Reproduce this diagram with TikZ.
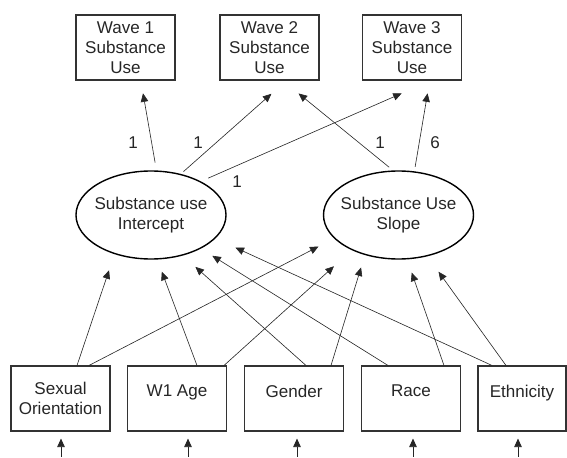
\documentclass[tikz,border=0pt]{standalone}
\usepackage{fontspec}
\setmainfont{Liberation Sans}
\usetikzlibrary{arrows.meta,shapes.geometric}

\begin{document}
\begin{tikzpicture}[scale=0.2]
			\tikzstyle{every node}+=[inner sep=0pt, font=\fontsize{9.7}{11.3}\selectfont, text=black!85]
			\tikzstyle{obs}=[draw=black!80, line width=0.6pt, rectangle, minimum width=1.98cm, minimum height=1.3cm, align=center]
			\tikzstyle{oneline}=[text depth=8.5pt]
			\tikzstyle{latent}=[draw=black, line width=0.8pt, ellipse, minimum width=3cm, minimum height=1.76cm, inner xsep=-3pt, align=center]
			\tikzstyle{arr}=[draw=black!85, line width=0.35pt, -{Triangle[length=1.7mm,width=1.5mm]}]
			\useasboundingbox (0,0) rectangle (56.7,-45.7);
			% waves
			\node [obs] (w1) at (12.55,-4.75) {Wave 1\\Substance\\Use};
			\node [obs] (w2) at (26.95,-4.75) {Wave 2\\Substance\\Use};
			\node [obs] (w3) at (41.2,-4.75) {Wave 3\\Substance\\Use};
			% growth factors
			\node [latent] (icpt) at (15.1,-21.5) {Substance use\\Intercept};
			\node [latent] (slope) at (39.85,-21.5) {Substance Use\\Slope};
			% covariates
			\node [obs] (so) at (6.05,-39.85) {Sexual\\Orientation};
			\node [obs, oneline] (age) at (17.7,-39.85) {W1 Age};
			\node [obs, oneline] (gen) at (29.4,-39.85) {Gender};
			\node [obs, oneline] (race) at (41.1,-39.85) {Race};
			\node [obs, oneline, minimum width=1.76cm] (eth) at (52.2,-39.85) {Ethnicity};
			% loadings
			\draw [arr, shorten <=0.16cm, shorten >=0.26cm] (icpt.83) -- ([shift={(1.53,0)}]w1.south);
			\draw [arr, shorten <=0.07cm, shorten >=0.4cm] (icpt.54.5) -- ([shift={(1.69,0)}]w2.south);
			\draw [arr, shorten <=0.16cm, shorten >=0.64cm] (icpt.34.6) -- ([shift={(1.9,0)}]w3.south);
			\draw [arr, shorten <=0.1cm, shorten >=0.41cm] (slope.97.3) -- ([shift={(1.32,0)}]w2.south);
			\draw [arr, shorten <=0.09cm, shorten >=0.26cm] (slope.70.2) -- ([shift={(1.77,0)}]w3.south);
			\node (l1) at (13.3,-14.3) {1};
			\node (l2) at (19.8,-14.3) {1};
			\node (l3) at (38.0,-14.3) {1};
			\node (l4) at (43.5,-14.3) {6};
			\node (l5) at (23.7,-18.2) {1};
			% covariates to intercept
			\draw [arr, shorten >=0.34cm] ([shift={(1.65,0)}]so.north) -- (icpt.227.7);
			\draw [arr, shorten >=0.26cm] ([shift={(2.0,0)}]age.north) -- (icpt.278.5);
			\draw [arr, shorten >=0.34cm] ([shift={(1.2,0)}]gen.north) -- (icpt.308.3);
			\draw [arr, shorten >=0.27cm] ([shift={(-2.3,0)}]race.north) -- (icpt.326.4);
			\draw [arr, shorten >=0.44cm] ([shift={(-3.0,0)}]eth.north) -- (icpt.340.3);
			% covariates to slope
			\draw [arr, shorten >=0.35cm] ([shift={(2.85,0)}]so.north) -- (slope.200.9);
			\draw [arr, shorten >=0.48cm] ([shift={(4.7,0)}]age.north) -- (slope.217.4);
			\draw [arr, shorten >=0.26cm] ([shift={(3.7,0)}]gen.north) -- (slope.230.5);
			\draw [arr, shorten >=0.28cm] ([shift={(3.3,0)}]race.north) -- (slope.281.5);
			\draw [arr, shorten >=0.38cm] ([shift={(-1.6,0)}]eth.north) -- (slope.305);
			% residuals
			\coordinate (so-e) at (6.1,-45.7);
			\coordinate (age-e) at (18.8,-45.7);
			\coordinate (gen-e) at (29.7,-45.7);
			\coordinate (race-e) at (41.3,-45.7);
			\coordinate (eth-e) at (51.8,-45.7);
			\draw [arr, shorten >=0.14cm] (so-e) -- (so-e |- so.south);
			\draw [arr, shorten >=0.14cm] (age-e) -- (age-e |- age.south);
			\draw [arr, shorten >=0.14cm] (gen-e) -- (gen-e |- gen.south);
			\draw [arr, shorten >=0.14cm] (race-e) -- (race-e |- race.south);
			\draw [arr, shorten >=0.14cm] (eth-e) -- (eth-e |- eth.south);
\end{tikzpicture}
\end{document}
